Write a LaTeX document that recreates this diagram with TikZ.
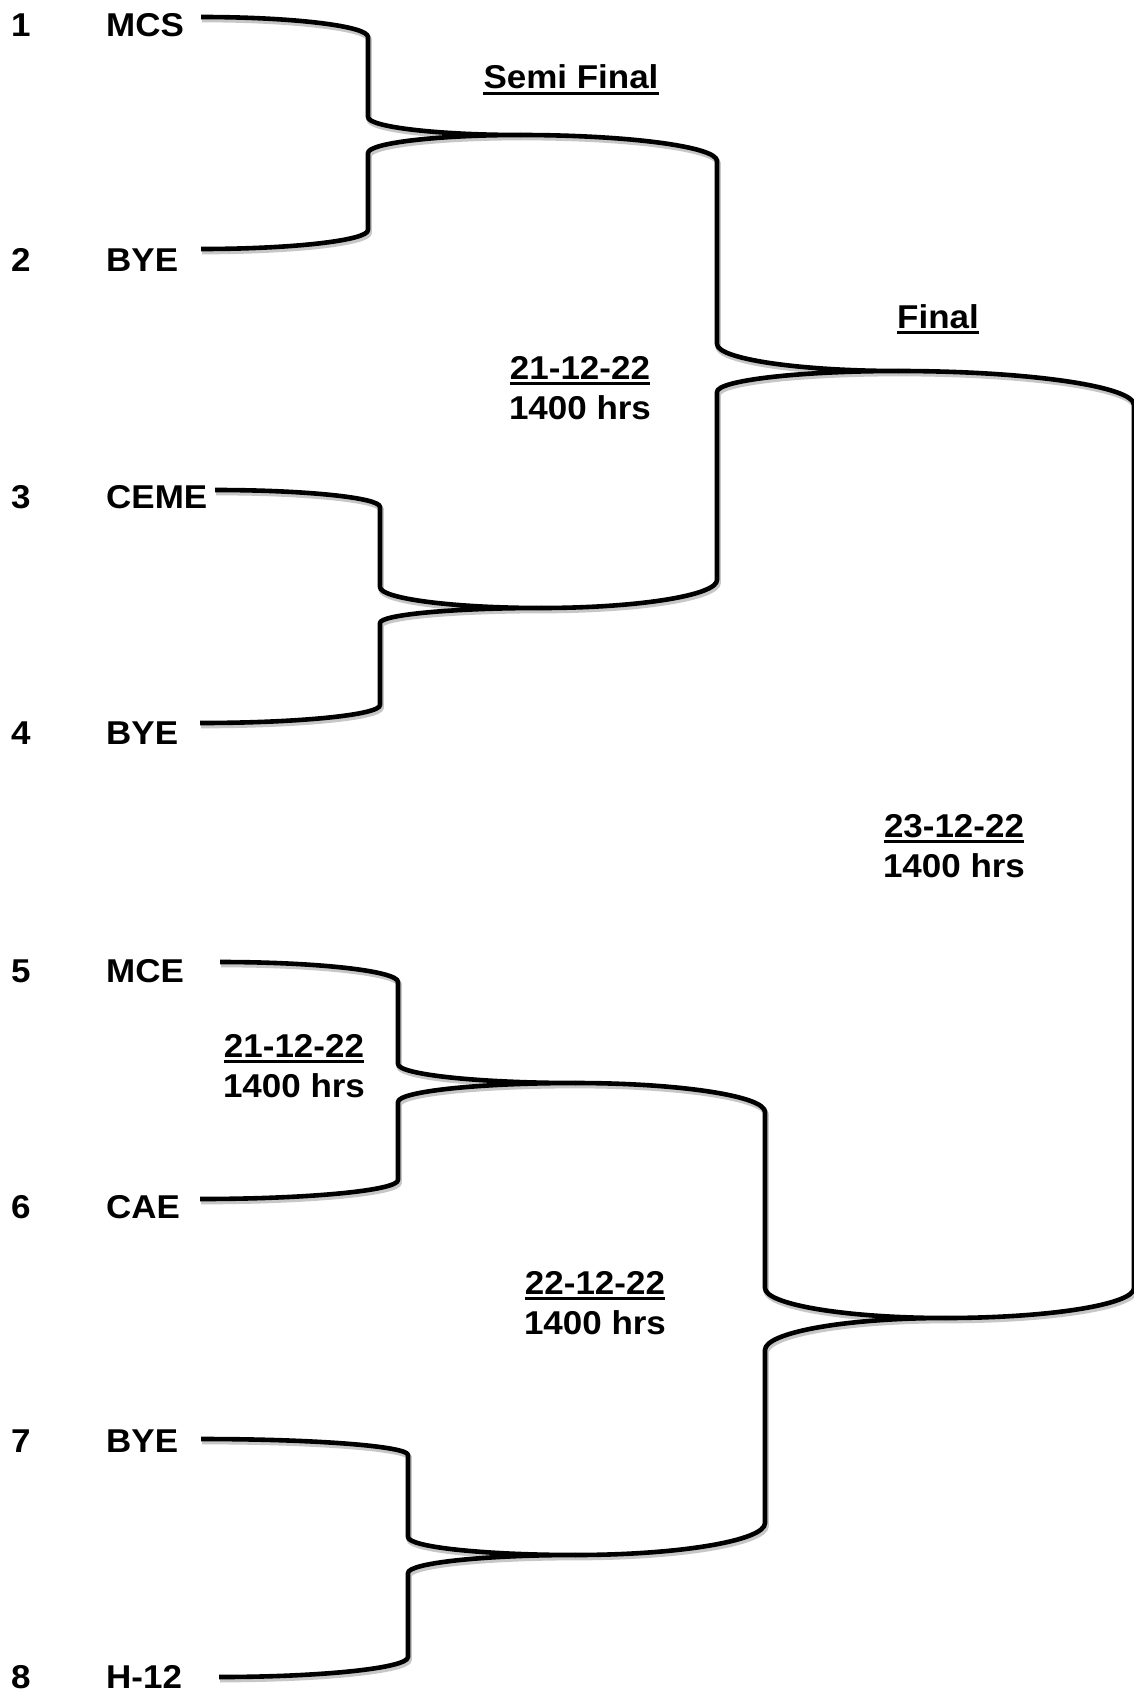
\documentclass[tikz,border=0pt]{standalone}
\usepackage{fontspec}
\setmainfont{Liberation Sans}[FakeStretch=1.06]
\usetikzlibrary{calc}
\newcommand{\hb}[2]{.. controls ($(#1)!0.55!(#2|-#1)$) and ($(#2)!0.55!(#2|-#1)$) .. (#2)}
\newcommand{\vb}[2]{.. controls ($(#1)!0.55!(#1|-#2)$) and ($(#2)!0.55!(#1|-#2)$) .. (#2)}
\tikzset{
  bracket/.style={draw=black, line width=4.6pt, line join=round,
    preaction={draw=black!22, line width=5.5pt, transform canvas={xshift=1.2pt,yshift=-2.6pt}}},
  txt/.style={inner sep=0pt, font=\fontsize{33}{39}\selectfont\bfseries, text=black},
  ul/.style={line width=3.8pt}
}
\begin{document}
\begin{tikzpicture}[x=1pt,y=-1pt]
\useasboundingbox (0,0) rectangle (1134,1696);
\fill[white] (0,0) rectangle (1134,1696);

% row numbers and teams
\foreach \i/\t/\yb in {1/MCS/37, 2/BYE/272, 3/CEME/508, 4/BYE/744, 5/MCE/982, 6/CAE/1218, 7/BYE/1452, 8/H-12/1688}{
  \node[txt, anchor=base west] (n\i) at (11,\yb) {\i};
  \node[txt, anchor=base west] (l\i) at (106,\yb) {\t};
}

% coordinates
\coordinate (a1) at (201,17);  \coordinate (a1c) at (368,37);  \coordinate (a1v) at (368,117);
\coordinate (at) at (520,135); \coordinate (a2v) at (368,153); \coordinate (a2c) at (368,230);
\coordinate (a2) at (201,249);

\coordinate (b1) at (215,490);  \coordinate (b1c) at (380,507); \coordinate (b1v) at (380,587);
\coordinate (bt) at (541,608);  \coordinate (b2v) at (380,623); \coordinate (b2c) at (380,705);
\coordinate (b2) at (200,723);

\coordinate (s1c) at (717,161); \coordinate (s1v) at (717,344); \coordinate (st) at (898,371);
\coordinate (s2v) at (717,392); \coordinate (s2c) at (717,580);

\coordinate (f1c) at (1134,405); \coordinate (f1v) at (1134,1288);

\coordinate (c1) at (220,962);  \coordinate (c1c) at (398,982); \coordinate (c1v) at (398,1064);
\coordinate (ct) at (575,1083); \coordinate (c2v) at (398,1102); \coordinate (c2c) at (398,1180);
\coordinate (c2) at (200,1199);

\coordinate (u1c) at (765,1112); \coordinate (u1v) at (765,1288); \coordinate (ut) at (945,1318);
\coordinate (u2v) at (765,1350); \coordinate (u2c) at (765,1523);

\coordinate (d1) at (201,1439);  \coordinate (d1c) at (408,1455); \coordinate (d1v) at (408,1537);
\coordinate (dt) at (575,1555);  \coordinate (d2v) at (408,1573); \coordinate (d2c) at (408,1657);
\coordinate (d2) at (219,1677);

% brackets
\path[bracket] (a1) \hb{a1}{a1c} -- (a1v) \vb{a1v}{at} \hb{at}{a2v} -- (a2c) \vb{a2c}{a2};
\path[bracket] (b1) \hb{b1}{b1c} -- (b1v) \vb{b1v}{bt} \hb{bt}{b2v} -- (b2c) \vb{b2c}{b2};
\path[bracket] (at) \hb{at}{s1c} -- (s1v) \vb{s1v}{st} \hb{st}{s2v} -- (s2c) \vb{s2c}{bt};
\path[bracket] (c1) \hb{c1}{c1c} -- (c1v) \vb{c1v}{ct} \hb{ct}{c2v} -- (c2c) \vb{c2c}{c2};
\path[bracket] (d1) \hb{d1}{d1c} -- (d1v) \vb{d1v}{dt} \hb{dt}{d2v} -- (d2c) \vb{d2c}{d2};
\path[bracket] (ct) \hb{ct}{u1c} -- (u1v) \vb{u1v}{ut} \hb{ut}{u2v} -- (u2c) \vb{u2c}{dt};
\path[bracket] (st) \hb{st}{f1c} -- (f1v) \vb{f1v}{ut};

% headings
\node[txt, anchor=base] (semi) at (571,89) {Semi Final};
\node[txt, anchor=base] (fin) at (938,328) {Final};

% dates
\node[txt, anchor=base] (d1date) at (580,379) {21-12-22};
\node[txt, anchor=base] (d1time) at (580,419) {1400 hrs};
\node[txt, anchor=base] (dfdate) at (954,837) {23-12-22};
\node[txt, anchor=base] (dftime) at (954,877) {1400 hrs};
\node[txt, anchor=base] (dcdate) at (294,1057) {21-12-22};
\node[txt, anchor=base] (dctime) at (294,1097) {1400 hrs};
\node[txt, anchor=base] (dudate) at (595,1294) {22-12-22};
\node[txt, anchor=base] (dutime) at (595,1334) {1400 hrs};

% underlines
\foreach \n in {semi,fin,d1date,dfdate,dcdate,dudate}{
  \draw[ul] ([yshift=-4.5pt]\n.base west) -- ([yshift=-4.5pt]\n.base east);
}
\end{tikzpicture}
\end{document}
